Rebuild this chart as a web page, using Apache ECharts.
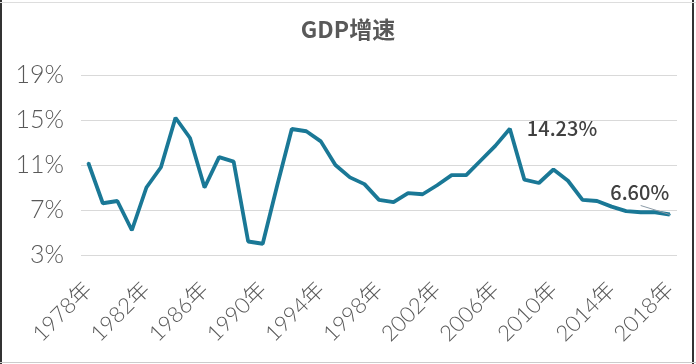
<!DOCTYPE html>
<html>
<head>
<meta charset="utf-8">
<script src="https://cdn.jsdelivr.net/npm/echarts@6/dist/echarts.min.js"></script>
<style>
html,body{margin:0;padding:0;background:#fff;}
#c{width:696px;height:364px;}
</style>
</head>
<body>
<div id="c"></div>
<script>
var years = [];
for (var y = 1978; y <= 2018; y++) years.push(y + '年');
var gdpGrowth = [11.2, 7.6, 7.8, 5.2, 9.0, 10.8, 15.2, 13.4, 9.0, 11.7,
  11.3, 4.2, 4.0, 9.2, 14.2, 14.0, 13.1, 11.0, 9.9, 9.3,
  7.9, 7.7, 8.5, 8.4, 9.2, 10.1, 10.1, 11.4, 12.7, 14.23,
  9.7, 9.4, 10.6, 9.6, 7.9, 7.8, 7.3, 6.9, 6.8, 6.8, 6.60];
var yTicks = [3, 7, 11, 15, 19];
var labelledYears = ['2007年', '2018年'];
var leaderLine = [['2016年', 7.4], ['2018年', 6.6]];

var LINE = '#1a7896';
var labelCfg = {
  '2007年': {position: 'right', distance: 16, offset: [0, 0]},
  '2018年': {position: 'top', distance: 10, offset: [-30, -1]}
};
var seriesData = gdpGrowth.map(function (v, i) {
  var item = {value: v};
  var lc = labelCfg[years[i]];
  if (labelledYears.indexOf(years[i]) >= 0 && lc) {
    item.label = {
      show: true, position: lc.position, distance: lc.distance, offset: lc.offset,
      formatter: function (p) { return p.value.toFixed(2) + '%'; },
      color: '#404040', fontSize: 20, fontWeight: 500,
      fontFamily: 'Noto Sans CJK SC'
    };
  }
  return item;
});

var chart = echarts.init(document.getElementById('c'), null, {renderer: 'canvas'});
chart.setOption({
  backgroundColor: '#fff',
  animation: false,
  title: {
    text: 'GDP增速', left: 'center', top: 13,
    textStyle: {color: '#595959', fontSize: 23, fontWeight: 'bold', fontFamily: 'Noto Sans CJK SC'}
  },
  grid: {left: 81, right: 19, top: 75, bottom: 109},
  xAxis: {
    type: 'category', data: years, boundaryGap: true,
    axisLine: {show: false}, axisTick: {show: false},
    axisLabel: {
      interval: 3, rotate: 45, margin: 31,
      color: '#595959', fontSize: 22, fontWeight: 300, fontFamily: 'Lato, "Noto Sans CJK SC"'
    }
  },
  yAxis: {
    type: 'value', min: yTicks[0], max: yTicks[yTicks.length - 1], interval: 4,
    axisLine: {show: false}, axisTick: {show: false},
    splitLine: {lineStyle: {color: '#d9d9d9', width: 1}},
    axisLabel: {
      margin: 17, color: '#595959', fontSize: 25, fontWeight: 300,
      fontFamily: 'Lato, "Noto Sans CJK SC"', formatter: '{value}%'
    }
  },
  series: [{
    type: 'line', data: seriesData, symbol: 'circle', symbolSize: 2, showSymbol: true,
    lineStyle: {color: LINE, width: 3.8},
    itemStyle: {color: LINE},
    emphasis: {disabled: true},
    markLine: {
      silent: true, symbol: ['none', 'none'], label: {show: false},
      lineStyle: {color: '#8a9aa6', width: 1, type: 'solid'},
      data: [[{coord: leaderLine[0]}, {coord: leaderLine[1]}]]
    }
  }],
  graphic: [
    {type: 'line', shape: {x1: 1, y1: 0, x2: 1, y2: 364}, style: {stroke: '#333', lineWidth: 2}},
    {type: 'line', shape: {x1: 693, y1: 0, x2: 693, y2: 364}, style: {stroke: '#333', lineWidth: 2}},
    {type: 'line', shape: {x1: 0, y1: 2.5, x2: 696, y2: 2.5}, style: {stroke: '#ddd', lineWidth: 1}},
    {type: 'line', shape: {x1: 0, y1: 362.5, x2: 696, y2: 362.5}, style: {stroke: '#ccc', lineWidth: 1}}
  ]
});
</script>
</body>
</html>
